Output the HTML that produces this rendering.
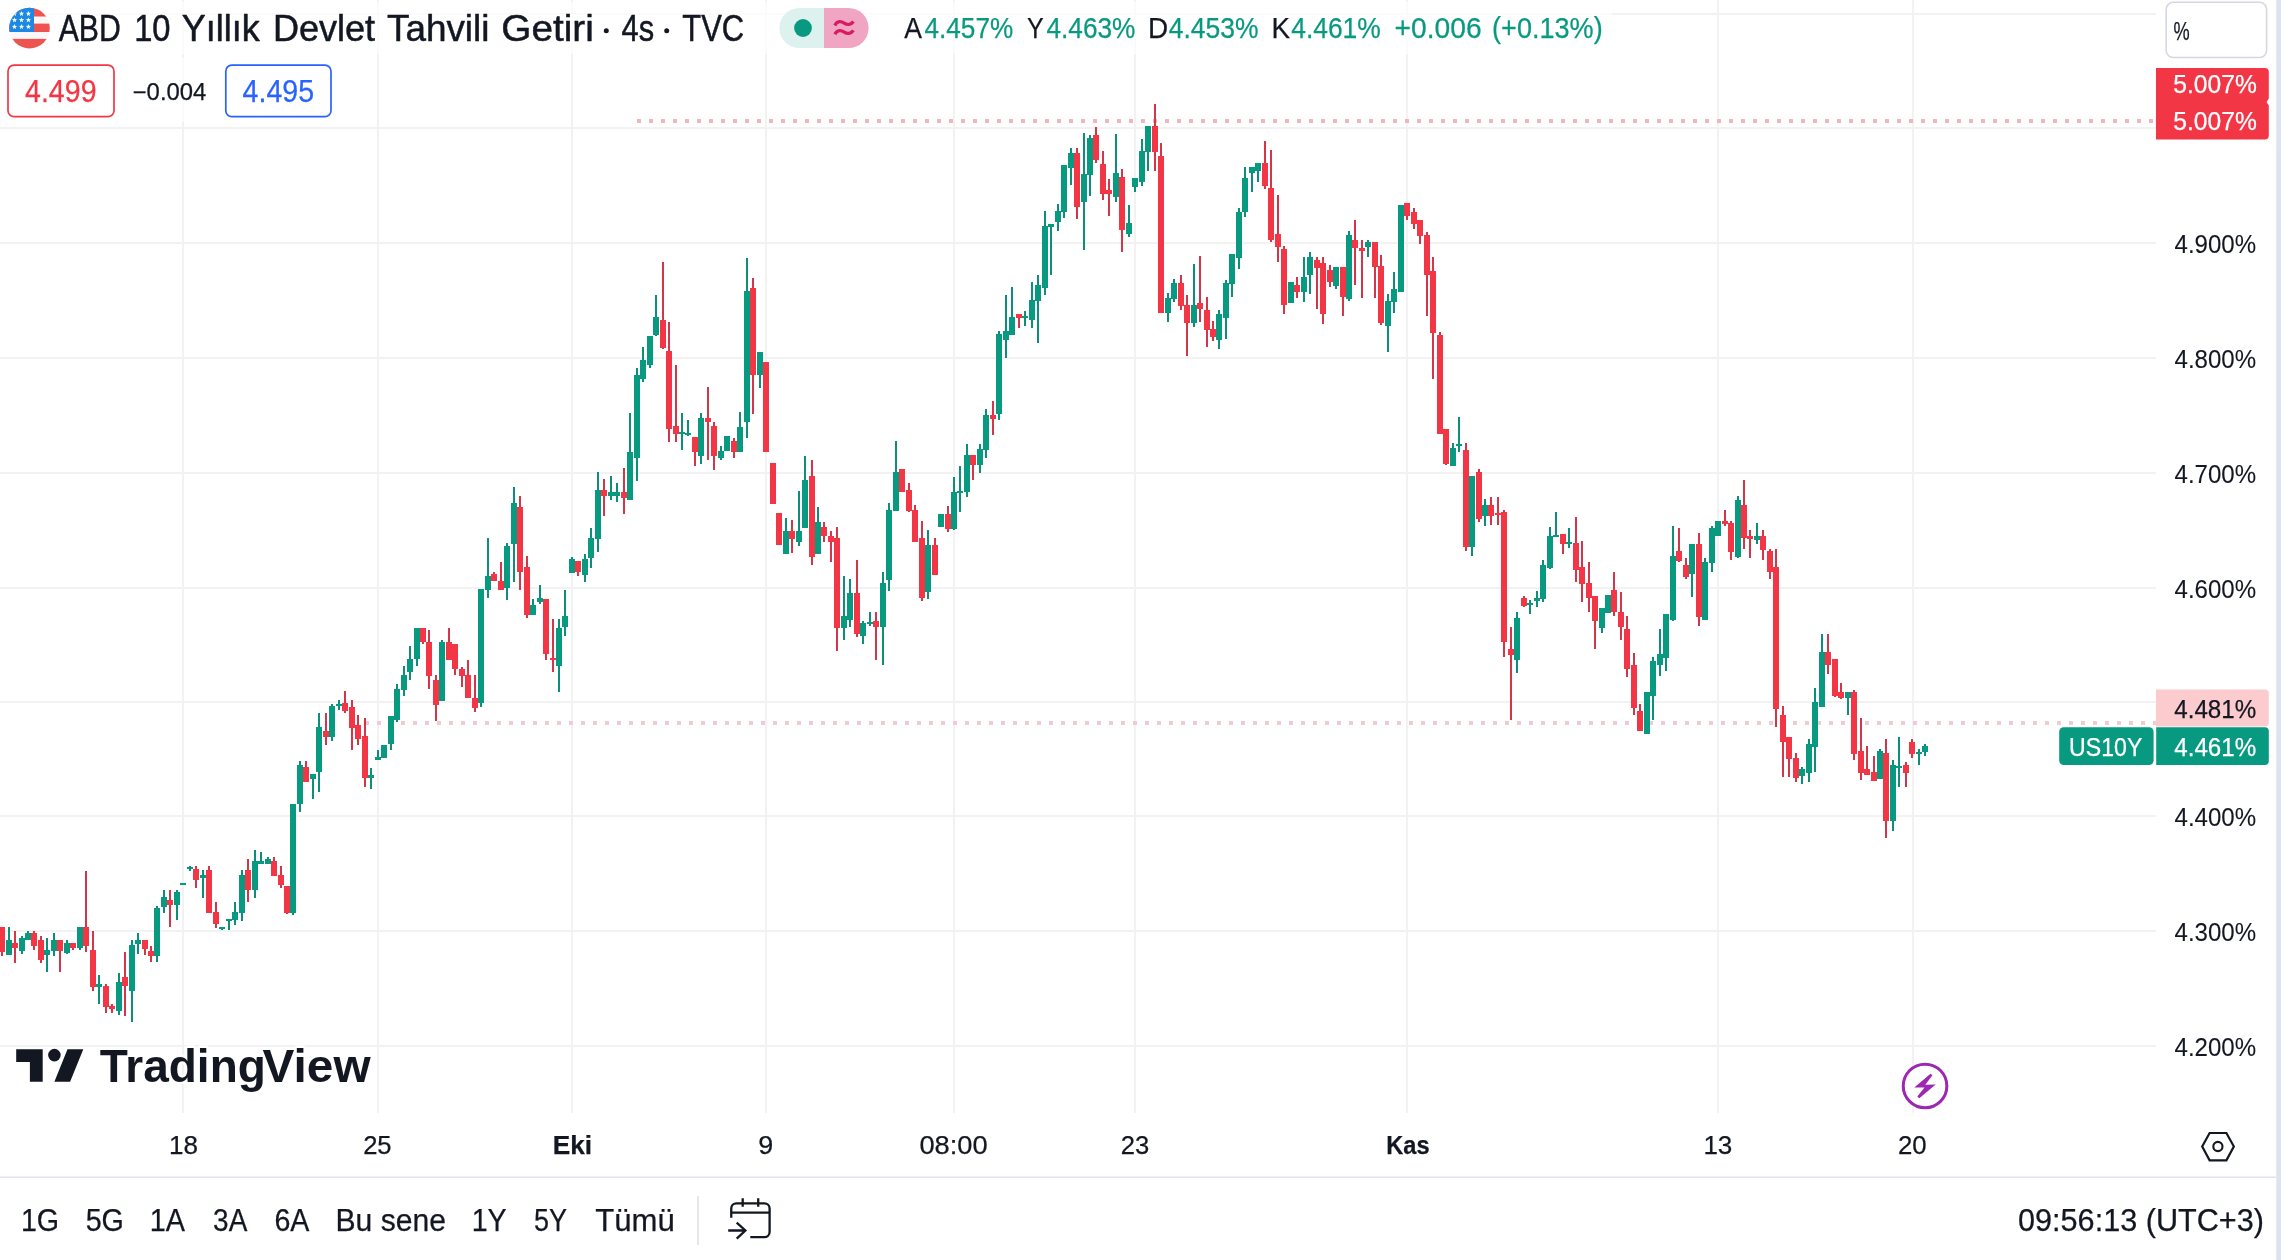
<!DOCTYPE html><html><head><meta charset="utf-8"><title>US10Y</title><style>html,body{margin:0;padding:0;background:#fff}body{width:2281px;height:1260px;overflow:hidden;position:relative}svg{position:absolute;left:0;top:0;display:block;will-change:transform}text{font-family:"Liberation Sans",sans-serif;white-space:pre}</style></head><body>
<svg width="2281" height="1260" viewBox="0 0 2281 1260">
<rect x="0" y="0" width="2281" height="1260" fill="#ffffff"/>
<g fill="#f2f2f3" shape-rendering="crispEdges">
<rect x="182" y="0" width="2" height="1113"/>
<rect x="377" y="0" width="2" height="1113"/>
<rect x="571" y="0" width="2" height="1113"/>
<rect x="765" y="0" width="2" height="1113"/>
<rect x="953" y="0" width="2" height="1113"/>
<rect x="1134" y="0" width="2" height="1113"/>
<rect x="1406" y="0" width="2" height="1113"/>
<rect x="1717" y="0" width="2" height="1113"/>
<rect x="1912" y="0" width="2" height="1113"/>
<rect x="0" y="13" width="2156" height="2"/>
<rect x="0" y="127" width="2156" height="2"/>
<rect x="0" y="242" width="2156" height="2"/>
<rect x="0" y="357" width="2156" height="2"/>
<rect x="0" y="472" width="2156" height="2"/>
<rect x="0" y="587" width="2156" height="2"/>
<rect x="0" y="701" width="2156" height="2"/>
<rect x="0" y="815" width="2156" height="2"/>
<rect x="0" y="930" width="2156" height="2"/>
<rect x="0" y="1045" width="2156" height="2"/>
</g>
<path d="M637 119h4v4h-4zM649 119h4v4h-4zM661 119h4v4h-4zM673 119h4v4h-4zM685 119h4v4h-4zM697 119h4v4h-4zM709 119h4v4h-4zM721 119h4v4h-4zM733 119h4v4h-4zM745 119h4v4h-4zM757 119h4v4h-4zM769 119h4v4h-4zM781 119h4v4h-4zM793 119h4v4h-4zM805 119h4v4h-4zM817 119h4v4h-4zM829 119h4v4h-4zM841 119h4v4h-4zM853 119h4v4h-4zM865 119h4v4h-4zM877 119h4v4h-4zM889 119h4v4h-4zM901 119h4v4h-4zM913 119h4v4h-4zM925 119h4v4h-4zM937 119h4v4h-4zM949 119h4v4h-4zM961 119h4v4h-4zM973 119h4v4h-4zM985 119h4v4h-4zM997 119h4v4h-4zM1009 119h4v4h-4zM1021 119h4v4h-4zM1033 119h4v4h-4zM1045 119h4v4h-4zM1057 119h4v4h-4zM1069 119h4v4h-4zM1081 119h4v4h-4zM1093 119h4v4h-4zM1105 119h4v4h-4zM1117 119h4v4h-4zM1129 119h4v4h-4zM1141 119h4v4h-4zM1153 119h4v4h-4zM1165 119h4v4h-4zM1177 119h4v4h-4zM1189 119h4v4h-4zM1201 119h4v4h-4zM1213 119h4v4h-4zM1225 119h4v4h-4zM1237 119h4v4h-4zM1249 119h4v4h-4zM1261 119h4v4h-4zM1273 119h4v4h-4zM1285 119h4v4h-4zM1297 119h4v4h-4zM1309 119h4v4h-4zM1321 119h4v4h-4zM1333 119h4v4h-4zM1345 119h4v4h-4zM1357 119h4v4h-4zM1369 119h4v4h-4zM1381 119h4v4h-4zM1393 119h4v4h-4zM1405 119h4v4h-4zM1417 119h4v4h-4zM1429 119h4v4h-4zM1441 119h4v4h-4zM1453 119h4v4h-4zM1465 119h4v4h-4zM1477 119h4v4h-4zM1489 119h4v4h-4zM1501 119h4v4h-4zM1513 119h4v4h-4zM1525 119h4v4h-4zM1537 119h4v4h-4zM1549 119h4v4h-4zM1561 119h4v4h-4zM1573 119h4v4h-4zM1585 119h4v4h-4zM1597 119h4v4h-4zM1609 119h4v4h-4zM1621 119h4v4h-4zM1633 119h4v4h-4zM1645 119h4v4h-4zM1657 119h4v4h-4zM1669 119h4v4h-4zM1681 119h4v4h-4zM1693 119h4v4h-4zM1705 119h4v4h-4zM1717 119h4v4h-4zM1729 119h4v4h-4zM1741 119h4v4h-4zM1753 119h4v4h-4zM1765 119h4v4h-4zM1777 119h4v4h-4zM1789 119h4v4h-4zM1801 119h4v4h-4zM1813 119h4v4h-4zM1825 119h4v4h-4zM1837 119h4v4h-4zM1849 119h4v4h-4zM1861 119h4v4h-4zM1873 119h4v4h-4zM1885 119h4v4h-4zM1897 119h4v4h-4zM1909 119h4v4h-4zM1921 119h4v4h-4zM1933 119h4v4h-4zM1945 119h4v4h-4zM1957 119h4v4h-4zM1969 119h4v4h-4zM1981 119h4v4h-4zM1993 119h4v4h-4zM2005 119h4v4h-4zM2017 119h4v4h-4zM2029 119h4v4h-4zM2041 119h4v4h-4zM2053 119h4v4h-4zM2065 119h4v4h-4zM2077 119h4v4h-4zM2089 119h4v4h-4zM2101 119h4v4h-4zM2113 119h4v4h-4zM2125 119h4v4h-4zM2137 119h4v4h-4zM2149 119h4v4h-4z" fill="#f0b6bd" shape-rendering="crispEdges"/>
<path d="M365 721h4v4h-4zM377 721h4v4h-4zM389 721h4v4h-4zM401 721h4v4h-4zM413 721h4v4h-4zM425 721h4v4h-4zM437 721h4v4h-4zM449 721h4v4h-4zM461 721h4v4h-4zM473 721h4v4h-4zM485 721h4v4h-4zM497 721h4v4h-4zM509 721h4v4h-4zM521 721h4v4h-4zM533 721h4v4h-4zM545 721h4v4h-4zM557 721h4v4h-4zM569 721h4v4h-4zM581 721h4v4h-4zM593 721h4v4h-4zM605 721h4v4h-4zM617 721h4v4h-4zM629 721h4v4h-4zM641 721h4v4h-4zM653 721h4v4h-4zM665 721h4v4h-4zM677 721h4v4h-4zM689 721h4v4h-4zM701 721h4v4h-4zM713 721h4v4h-4zM725 721h4v4h-4zM737 721h4v4h-4zM749 721h4v4h-4zM761 721h4v4h-4zM773 721h4v4h-4zM785 721h4v4h-4zM797 721h4v4h-4zM809 721h4v4h-4zM821 721h4v4h-4zM833 721h4v4h-4zM845 721h4v4h-4zM857 721h4v4h-4zM869 721h4v4h-4zM881 721h4v4h-4zM893 721h4v4h-4zM905 721h4v4h-4zM917 721h4v4h-4zM929 721h4v4h-4zM941 721h4v4h-4zM953 721h4v4h-4zM965 721h4v4h-4zM977 721h4v4h-4zM989 721h4v4h-4zM1001 721h4v4h-4zM1013 721h4v4h-4zM1025 721h4v4h-4zM1037 721h4v4h-4zM1049 721h4v4h-4zM1061 721h4v4h-4zM1073 721h4v4h-4zM1085 721h4v4h-4zM1097 721h4v4h-4zM1109 721h4v4h-4zM1121 721h4v4h-4zM1133 721h4v4h-4zM1145 721h4v4h-4zM1157 721h4v4h-4zM1169 721h4v4h-4zM1181 721h4v4h-4zM1193 721h4v4h-4zM1205 721h4v4h-4zM1217 721h4v4h-4zM1229 721h4v4h-4zM1241 721h4v4h-4zM1253 721h4v4h-4zM1265 721h4v4h-4zM1277 721h4v4h-4zM1289 721h4v4h-4zM1301 721h4v4h-4zM1313 721h4v4h-4zM1325 721h4v4h-4zM1337 721h4v4h-4zM1349 721h4v4h-4zM1361 721h4v4h-4zM1373 721h4v4h-4zM1385 721h4v4h-4zM1397 721h4v4h-4zM1409 721h4v4h-4zM1421 721h4v4h-4zM1433 721h4v4h-4zM1445 721h4v4h-4zM1457 721h4v4h-4zM1469 721h4v4h-4zM1481 721h4v4h-4zM1493 721h4v4h-4zM1505 721h4v4h-4zM1517 721h4v4h-4zM1529 721h4v4h-4zM1541 721h4v4h-4zM1553 721h4v4h-4zM1565 721h4v4h-4zM1577 721h4v4h-4zM1589 721h4v4h-4zM1601 721h4v4h-4zM1613 721h4v4h-4zM1625 721h4v4h-4zM1637 721h4v4h-4zM1649 721h4v4h-4zM1661 721h4v4h-4zM1673 721h4v4h-4zM1685 721h4v4h-4zM1697 721h4v4h-4zM1709 721h4v4h-4zM1721 721h4v4h-4zM1733 721h4v4h-4zM1745 721h4v4h-4zM1757 721h4v4h-4zM1769 721h4v4h-4zM1781 721h4v4h-4zM1793 721h4v4h-4zM1805 721h4v4h-4zM1817 721h4v4h-4zM1829 721h4v4h-4zM1841 721h4v4h-4zM1853 721h4v4h-4zM1865 721h4v4h-4zM1877 721h4v4h-4zM1889 721h4v4h-4zM1901 721h4v4h-4zM1913 721h4v4h-4zM1925 721h4v4h-4zM1937 721h4v4h-4zM1949 721h4v4h-4zM1961 721h4v4h-4zM1973 721h4v4h-4zM1985 721h4v4h-4zM1997 721h4v4h-4zM2009 721h4v4h-4zM2021 721h4v4h-4zM2033 721h4v4h-4zM2045 721h4v4h-4zM2057 721h4v4h-4zM2069 721h4v4h-4zM2081 721h4v4h-4zM2093 721h4v4h-4zM2105 721h4v4h-4zM2117 721h4v4h-4zM2129 721h4v4h-4zM2141 721h4v4h-4zM2153 721h3v4h-3z" fill="#eeccd1" shape-rendering="crispEdges"/>
<g shape-rendering="crispEdges"><path d="M8 927h2V955h-2zM21 936h2V954h-2zM27 931h2V940h-2zM46 938h2V972h-2zM53 933h2V956h-2zM66 940h2V954h-2zM79 927h2V950h-2zM98 975h2V1004h-2zM118 973h2V1015h-2zM131 940h2V1022h-2zM137 933h2V954h-2zM156 906h2V962h-2zM163 890h2V913h-2zM176 890h2V920h-2zM182 883h2V885h-2zM189 866h2V871h-2zM202 870h2V898h-2zM221 927h2V930h-2zM228 919h2V930h-2zM234 902h2V925h-2zM241 870h2V921h-2zM254 850h2V898h-2zM260 852h2V864h-2zM267 857h2V864h-2zM292 804h2V915h-2zM299 761h2V812h-2zM312 774h2V799h-2zM318 713h2V792h-2zM331 704h2V741h-2zM338 700h2V710h-2zM370 768h2V789h-2zM377 750h2V760h-2zM383 745h2V758h-2zM390 716h2V750h-2zM396 684h2V722h-2zM403 666h2V696h-2zM409 646h2V680h-2zM416 628h2V666h-2zM441 640h2V701h-2zM480 589h2V707h-2zM487 538h2V598h-2zM506 543h2V600h-2zM513 487h2V582h-2zM532 599h2V615h-2zM539 585h2V604h-2zM558 619h2V692h-2zM564 590h2V636h-2zM571 557h2V573h-2zM584 554h2V582h-2zM590 528h2V568h-2zM597 472h2V552h-2zM610 476h2V500h-2zM616 483h2V502h-2zM629 413h2V500h-2zM636 368h2V481h-2zM642 347h2V382h-2zM649 336h2V368h-2zM655 295h2V336h-2zM681 413h2V450h-2zM687 420h2V436h-2zM700 413h2V464h-2zM720 446h2V460h-2zM726 436h2V451h-2zM739 412h2V452h-2zM746 258h2V438h-2zM759 352h2V388h-2zM785 518h2V554h-2zM798 491h2V546h-2zM804 456h2V528h-2zM817 507h2V554h-2zM843 576h2V640h-2zM849 579h2V627h-2zM862 621h2V644h-2zM869 612h2V626h-2zM882 572h2V665h-2zM888 503h2V591h-2zM895 441h2V511h-2zM927 530h2V599h-2zM940 514h2V527h-2zM953 477h2V530h-2zM959 466h2V512h-2zM966 444h2V497h-2zM979 444h2V473h-2zM985 409h2V458h-2zM998 331h2V420h-2zM1005 295h2V358h-2zM1011 287h2V335h-2zM1024 311h2V326h-2zM1031 282h2V328h-2zM1037 275h2V343h-2zM1044 211h2V295h-2zM1050 224h2V275h-2zM1057 204h2V231h-2zM1063 165h2V218h-2zM1070 148h2V185h-2zM1083 133h2V250h-2zM1089 135h2V196h-2zM1115 134h2V202h-2zM1128 205h2V237h-2zM1134 178h2V192h-2zM1141 139h2V186h-2zM1147 126h2V171h-2zM1167 293h2V322h-2zM1173 279h2V302h-2zM1193 264h2V327h-2zM1218 310h2V349h-2zM1225 280h2V339h-2zM1231 254h2V297h-2zM1238 208h2V269h-2zM1244 167h2V217h-2zM1251 167h2V192h-2zM1257 163h2V182h-2zM1290 282h2V303h-2zM1303 257h2V302h-2zM1309 252h2V294h-2zM1335 267h2V289h-2zM1348 231h2V301h-2zM1367 240h2V257h-2zM1387 294h2V352h-2zM1393 272h2V313h-2zM1400 205h2V292h-2zM1452 443h2V466h-2zM1458 417h2V452h-2zM1471 476h2V556h-2zM1484 499h2V526h-2zM1516 612h2V673h-2zM1529 600h2V614h-2zM1536 591h2V607h-2zM1542 560h2V602h-2zM1549 527h2V569h-2zM1555 512h2V537h-2zM1568 528h2V548h-2zM1601 608h2V633h-2zM1607 595h2V613h-2zM1646 692h2V734h-2zM1652 657h2V720h-2zM1659 629h2V676h-2zM1665 614h2V671h-2zM1672 526h2V621h-2zM1691 544h2V597h-2zM1704 558h2V620h-2zM1711 526h2V572h-2zM1717 521h2V536h-2zM1737 496h2V558h-2zM1756 523h2V544h-2zM1801 767h2V784h-2zM1808 739h2V782h-2zM1814 688h2V772h-2zM1821 634h2V707h-2zM1847 692h2V715h-2zM1879 749h2V779h-2zM1892 760h2V831h-2zM1898 737h2V787h-2zM1918 749h2V765h-2zM1924 744h2V756h-2z" fill="#0b8f79"/><path d="M1 927h2V956h-2zM14 931h2V963h-2zM33 931h2V950h-2zM40 936h2V963h-2zM59 940h2V972h-2zM72 943h2V950h-2zM85 871h2V952h-2zM92 931h2V991h-2zM105 984h2V1013h-2zM111 1004h2V1013h-2zM124 952h2V1016h-2zM144 940h2V955h-2zM150 946h2V962h-2zM169 890h2V927h-2zM195 866h2V888h-2zM208 866h2V913h-2zM215 902h2V928h-2zM247 859h2V902h-2zM273 857h2V876h-2zM280 866h2V888h-2zM286 886h2V914h-2zM305 761h2V782h-2zM325 713h2V745h-2zM344 691h2V713h-2zM351 700h2V750h-2zM357 715h2V745h-2zM364 718h2V787h-2zM422 628h2V644h-2zM428 630h2V689h-2zM435 675h2V721h-2zM448 628h2V660h-2zM454 644h2V675h-2zM461 667h2V687h-2zM467 660h2V698h-2zM474 675h2V712h-2zM493 572h2V581h-2zM500 562h2V590h-2zM519 496h2V590h-2zM526 556h2V618h-2zM545 599h2V660h-2zM552 619h2V672h-2zM577 561h2V576h-2zM603 479h2V516h-2zM623 468h2V514h-2zM662 262h2V349h-2zM668 322h2V442h-2zM675 365h2V442h-2zM694 437h2V466h-2zM707 387h2V460h-2zM713 422h2V470h-2zM733 438h2V458h-2zM752 278h2V414h-2zM765 362h2V452h-2zM772 463h2V504h-2zM778 513h2V545h-2zM791 520h2V553h-2zM811 460h2V565h-2zM823 522h2V542h-2zM830 531h2V562h-2zM836 527h2V651h-2zM856 560h2V637h-2zM875 612h2V660h-2zM901 469h2V492h-2zM908 483h2V512h-2zM914 505h2V542h-2zM921 521h2V601h-2zM934 538h2V575h-2zM947 506h2V532h-2zM972 455h2V480h-2zM992 401h2V435h-2zM1018 314h2V328h-2zM1076 148h2V219h-2zM1095 127h2V163h-2zM1102 151h2V200h-2zM1108 179h2V216h-2zM1121 169h2V252h-2zM1154 104h2V171h-2zM1160 143h2V313h-2zM1180 275h2V310h-2zM1186 295h2V356h-2zM1199 256h2V322h-2zM1206 297h2V347h-2zM1212 321h2V341h-2zM1264 141h2V189h-2zM1270 150h2V242h-2zM1277 195h2V262h-2zM1283 246h2V314h-2zM1296 277h2V298h-2zM1316 257h2V309h-2zM1322 257h2V324h-2zM1329 265h2V287h-2zM1342 267h2V316h-2zM1354 220h2V285h-2zM1361 240h2V298h-2zM1374 242h2V298h-2zM1380 255h2V325h-2zM1406 203h2V220h-2zM1413 208h2V229h-2zM1419 220h2V244h-2zM1426 232h2V316h-2zM1432 257h2V379h-2zM1439 332h2V434h-2zM1445 429h2V465h-2zM1465 443h2V551h-2zM1478 469h2V522h-2zM1490 497h2V525h-2zM1497 497h2V525h-2zM1503 510h2V657h-2zM1510 627h2V720h-2zM1523 596h2V607h-2zM1562 534h2V554h-2zM1575 517h2V582h-2zM1581 541h2V602h-2zM1588 562h2V612h-2zM1594 596h2V649h-2zM1613 572h2V616h-2zM1620 592h2V640h-2zM1626 616h2V677h-2zM1633 653h2V715h-2zM1639 704h2V731h-2zM1678 528h2V562h-2zM1685 558h2V579h-2zM1698 533h2V626h-2zM1724 510h2V526h-2zM1730 521h2V560h-2zM1743 480h2V549h-2zM1749 530h2V558h-2zM1762 530h2V560h-2zM1769 549h2V579h-2zM1775 549h2V727h-2zM1782 706h2V777h-2zM1788 737h2V777h-2zM1795 753h2V782h-2zM1827 634h2V674h-2zM1834 659h2V697h-2zM1840 683h2V699h-2zM1853 690h2V760h-2zM1860 718h2V780h-2zM1866 746h2V775h-2zM1873 756h2V781h-2zM1885 739h2V838h-2zM1905 762h2V787h-2zM1911 739h2V758h-2z" fill="#d3354a"/>
<path d="M6 940h6V955h-6zM19 938h6V951h-6zM25 933h6V940h-6zM44 950h6V955h-6zM51 940h6V951h-6zM64 943h6V953h-6zM77 927h6V948h-6zM96 984h6V987h-6zM116 982h6V1011h-6zM129 945h6V991h-6zM135 940h6V944h-6zM154 908h6V956h-6zM161 897h6V907h-6zM174 892h6V905h-6zM180 883h6V885h-6zM187 867h6V869h-6zM200 875h6V878h-6zM219 927h6V929h-6zM226 919h6V921h-6zM232 912h6V920h-6zM239 875h6V913h-6zM252 861h6V890h-6zM258 861h6V864h-6zM265 859h6V864h-6zM290 804h6V913h-6zM297 765h6V804h-6zM310 774h6V779h-6zM316 727h6V772h-6zM329 706h6V737h-6zM336 704h6V706h-6zM368 775h6V778h-6zM375 757h6V760h-6zM381 745h6V758h-6zM388 716h6V744h-6zM394 689h6V720h-6zM401 675h6V690h-6zM407 659h6V672h-6zM414 628h6V659h-6zM439 642h6V701h-6zM478 589h6V703h-6zM485 576h6V590h-6zM504 546h6V588h-6zM511 503h6V544h-6zM530 605h6V615h-6zM537 598h6V602h-6zM556 628h6V666h-6zM562 616h6V627h-6zM569 559h6V573h-6zM582 559h6V575h-6zM588 538h6V558h-6zM595 490h6V539h-6zM608 492h6V496h-6zM614 492h6V496h-6zM627 452h6V500h-6zM634 375h6V458h-6zM640 360h6V379h-6zM647 336h6V365h-6zM653 317h6V335h-6zM679 432h6V434h-6zM685 433h6V435h-6zM698 418h6V456h-6zM718 451h6V458h-6zM724 436h6V451h-6zM737 427h6V452h-6zM744 291h6V422h-6zM757 352h6V375h-6zM783 531h6V554h-6zM796 531h6V542h-6zM802 480h6V528h-6zM815 522h6V554h-6zM841 616h6V628h-6zM847 593h6V620h-6zM860 623h6V636h-6zM867 622h6V624h-6zM880 583h6V627h-6zM886 510h6V580h-6zM893 472h6V511h-6zM925 545h6V592h-6zM938 514h6V527h-6zM951 492h6V529h-6zM957 491h6V493h-6zM964 455h6V492h-6zM977 449h6V465h-6zM983 415h6V450h-6zM996 334h6V414h-6zM1003 331h6V340h-6zM1009 317h6V335h-6zM1022 316h6V318h-6zM1029 300h6V320h-6zM1035 285h6V301h-6zM1042 226h6V288h-6zM1048 224h6V227h-6zM1055 211h6V222h-6zM1061 165h6V212h-6zM1068 153h6V168h-6zM1081 174h6V202h-6zM1087 138h6V175h-6zM1113 173h6V197h-6zM1126 223h6V234h-6zM1132 178h6V187h-6zM1139 151h6V182h-6zM1145 126h6V152h-6zM1165 298h6V313h-6zM1171 283h6V299h-6zM1191 305h6V323h-6zM1216 314h6V340h-6zM1223 283h6V318h-6zM1229 254h6V284h-6zM1236 212h6V258h-6zM1242 178h6V212h-6zM1249 167h6V173h-6zM1255 163h6V171h-6zM1288 282h6V303h-6zM1301 277h6V292h-6zM1307 257h6V275h-6zM1333 267h6V286h-6zM1346 235h6V299h-6zM1365 242h6V247h-6zM1385 301h6V326h-6zM1391 289h6V302h-6zM1398 205h6V292h-6zM1450 448h6V466h-6zM1456 444h6V446h-6zM1469 476h6V547h-6zM1482 505h6V516h-6zM1514 618h6V660h-6zM1527 603h6V605h-6zM1534 598h6V601h-6zM1540 565h6V599h-6zM1547 536h6V568h-6zM1553 535h6V537h-6zM1566 542h6V544h-6zM1599 608h6V628h-6zM1605 595h6V613h-6zM1644 692h6V734h-6zM1650 661h6V696h-6zM1657 654h6V665h-6zM1663 614h6V658h-6zM1670 556h6V620h-6zM1689 544h6V574h-6zM1702 562h6V620h-6zM1709 528h6V563h-6zM1715 521h6V536h-6zM1735 500h6V557h-6zM1754 536h6V540h-6zM1799 769h6V776h-6zM1806 744h6V773h-6zM1812 702h6V747h-6zM1819 652h6V707h-6zM1845 692h6V698h-6zM1877 751h6V779h-6zM1890 765h6V821h-6zM1896 766h6V768h-6zM1916 752h6V754h-6zM1922 746h6V752h-6z" fill="#089981"/><path d="M-1 927h6V952h-6zM12 943h6V948h-6zM31 933h6V946h-6zM38 940h6V960h-6zM57 940h6V951h-6zM70 943h6V948h-6zM83 927h6V946h-6zM90 950h6V987h-6zM103 986h6V1007h-6zM109 1006h6V1009h-6zM122 977h6V986h-6zM142 940h6V949h-6zM148 951h6V956h-6zM167 900h6V905h-6zM193 869h6V880h-6zM206 870h6V913h-6zM213 912h6V924h-6zM245 870h6V890h-6zM271 861h6V876h-6zM278 875h6V885h-6zM284 886h6V913h-6zM303 767h6V782h-6zM323 731h6V737h-6zM342 703h6V711h-6zM349 707h6V728h-6zM355 725h6V739h-6zM362 736h6V778h-6zM420 628h6V642h-6zM426 642h6V676h-6zM433 680h6V705h-6zM446 642h6V660h-6zM452 644h6V669h-6zM459 669h6V676h-6zM465 675h6V698h-6zM472 698h6V708h-6zM491 574h6V581h-6zM498 581h6V590h-6zM517 507h6V572h-6zM524 567h6V615h-6zM543 599h6V654h-6zM550 658h6V660h-6zM575 561h6V572h-6zM601 490h6V496h-6zM621 492h6V498h-6zM660 320h6V348h-6zM666 351h6V429h-6zM673 426h6V434h-6zM692 437h6V452h-6zM705 418h6V422h-6zM711 426h6V456h-6zM731 441h6V452h-6zM750 288h6V375h-6zM763 362h6V452h-6zM770 463h6V504h-6zM776 513h6V545h-6zM789 531h6V539h-6zM809 476h6V557h-6zM821 527h6V536h-6zM828 536h6V542h-6zM834 538h6V628h-6zM854 593h6V634h-6zM873 621h6V627h-6zM899 469h6V492h-6zM906 490h6V511h-6zM912 510h6V542h-6zM919 538h6V598h-6zM932 545h6V575h-6zM945 514h6V529h-6zM970 455h6V465h-6zM990 415h6V419h-6zM1016 314h6V318h-6zM1074 153h6V207h-6zM1093 135h6V160h-6zM1100 164h6V194h-6zM1106 190h6V194h-6zM1119 177h6V230h-6zM1152 126h6V152h-6zM1158 156h6V313h-6zM1178 283h6V306h-6zM1184 305h6V323h-6zM1197 303h6V309h-6zM1204 310h6V330h-6zM1210 329h6V337h-6zM1262 163h6V186h-6zM1268 188h6V240h-6zM1275 234h6V247h-6zM1281 249h6V305h-6zM1294 285h6V292h-6zM1314 260h6V268h-6zM1320 263h6V314h-6zM1327 270h6V282h-6zM1340 267h6V297h-6zM1352 240h6V248h-6zM1359 248h6V251h-6zM1372 242h6V267h-6zM1378 266h6V323h-6zM1404 203h6V216h-6zM1411 212h6V224h-6zM1417 220h6V236h-6zM1424 235h6V275h-6zM1430 271h6V333h-6zM1437 335h6V434h-6zM1443 429h6V464h-6zM1463 450h6V547h-6zM1476 472h6V519h-6zM1488 505h6V516h-6zM1495 513h6V515h-6zM1501 512h6V642h-6zM1508 649h6V655h-6zM1521 598h6V606h-6zM1560 534h6V544h-6zM1573 543h6V570h-6zM1579 567h6V584h-6zM1586 583h6V598h-6zM1592 596h6V621h-6zM1611 590h6V612h-6zM1618 612h6V627h-6zM1624 629h6V669h-6zM1631 665h6V708h-6zM1637 711h6V731h-6zM1676 551h6V561h-6zM1683 565h6V577h-6zM1696 544h6V617h-6zM1722 521h6V524h-6zM1728 523h6V552h-6zM1741 505h6V538h-6zM1747 536h6V539h-6zM1760 536h6V550h-6zM1767 551h6V572h-6zM1773 567h6V709h-6zM1780 715h6V742h-6zM1786 737h6V759h-6zM1793 758h6V778h-6zM1825 652h6V665h-6zM1832 659h6V696h-6zM1838 692h6V698h-6zM1851 692h6V754h-6zM1858 751h6V773h-6zM1864 769h6V775h-6zM1871 772h6V781h-6zM1883 753h6V821h-6zM1903 765h6V773h-6zM1909 742h6V754h-6z" fill="#f23645"/></g>
<rect x="0" y="2" width="1612" height="52" fill="#ffffff" fill-opacity="0.65"/><rect x="0" y="58" width="340" height="64" fill="#ffffff" fill-opacity="0.65"/>
<defs><clipPath id="fc"><circle cx="29.5" cy="28.1" r="20.3"/></clipPath></defs>
<g clip-path="url(#fc)">
<rect x="8" y="6" width="44" height="44" fill="#fbf7f8"/>
<rect x="8" y="6" width="44" height="10.5" fill="#ef5350"/>
<rect x="8" y="23.6" width="44" height="8.4" fill="#ef5350"/>
<rect x="8" y="38.9" width="44" height="11.1" fill="#ef5350"/>
<rect x="8" y="6" width="26" height="26" fill="#1e88e5"/>
<polygon points="14.50,11.00 15.21,12.72 17.07,12.87 15.66,14.08 16.09,15.88 14.50,14.91 12.91,15.88 13.34,14.08 11.93,12.87 13.79,12.72" fill="#eefcff"/>
<polygon points="21.50,11.00 22.21,12.72 24.07,12.87 22.66,14.08 23.09,15.88 21.50,14.91 19.91,15.88 20.34,14.08 18.93,12.87 20.79,12.72" fill="#eefcff"/>
<polygon points="28.40,11.00 29.11,12.72 30.97,12.87 29.56,14.08 29.99,15.88 28.40,14.91 26.81,15.88 27.24,14.08 25.83,12.87 27.69,12.72" fill="#eefcff"/>
<polygon points="14.50,17.40 15.21,19.12 17.07,19.27 15.66,20.48 16.09,22.28 14.50,21.32 12.91,22.28 13.34,20.48 11.93,19.27 13.79,19.12" fill="#eefcff"/>
<polygon points="21.50,17.40 22.21,19.12 24.07,19.27 22.66,20.48 23.09,22.28 21.50,21.32 19.91,22.28 20.34,20.48 18.93,19.27 20.79,19.12" fill="#eefcff"/>
<polygon points="28.40,17.40 29.11,19.12 30.97,19.27 29.56,20.48 29.99,22.28 28.40,21.32 26.81,22.28 27.24,20.48 25.83,19.27 27.69,19.12" fill="#eefcff"/>
<polygon points="14.50,24.10 15.21,25.82 17.07,25.97 15.66,27.18 16.09,28.98 14.50,28.02 12.91,28.98 13.34,27.18 11.93,25.97 13.79,25.82" fill="#eefcff"/>
<polygon points="21.50,24.10 22.21,25.82 24.07,25.97 22.66,27.18 23.09,28.98 21.50,28.02 19.91,28.98 20.34,27.18 18.93,25.97 20.79,25.82" fill="#eefcff"/>
<polygon points="28.40,24.10 29.11,25.82 30.97,25.97 29.56,27.18 29.99,28.98 28.40,28.02 26.81,28.98 27.24,27.18 25.83,25.97 27.69,25.82" fill="#eefcff"/>
</g>
<text x="58.70" y="40.8" font-size="36" fill="#131722" stroke="#131722" stroke-width="0.5" stroke-linejoin="round" textLength="62.04" lengthAdjust="spacingAndGlyphs">ABD</text>
<text x="134.18" y="40.8" font-size="36" fill="#131722" stroke="#131722" stroke-width="0.5" stroke-linejoin="round" textLength="36.34" lengthAdjust="spacingAndGlyphs">10</text>
<text x="181.80" y="40.8" font-size="36" fill="#131722" stroke="#131722" stroke-width="0.5" stroke-linejoin="round" textLength="77.90" lengthAdjust="spacingAndGlyphs">Yıllık</text>
<text x="272.90" y="40.8" font-size="36" fill="#131722" stroke="#131722" stroke-width="0.5" stroke-linejoin="round" textLength="102.21" lengthAdjust="spacingAndGlyphs">Devlet</text>
<text x="387.00" y="40.8" font-size="36" fill="#131722" stroke="#131722" stroke-width="0.5" stroke-linejoin="round" textLength="102.45" lengthAdjust="spacingAndGlyphs">Tahvili</text>
<text x="501.33" y="40.8" font-size="36" fill="#131722" stroke="#131722" stroke-width="0.5" stroke-linejoin="round" textLength="92.42" lengthAdjust="spacingAndGlyphs">Getiri</text>
<text x="621.50" y="40.8" font-size="36" fill="#131722" stroke="#131722" stroke-width="0.5" stroke-linejoin="round" textLength="32.56" lengthAdjust="spacingAndGlyphs">4s</text>
<text x="682.30" y="40.8" font-size="36" fill="#131722" stroke="#131722" stroke-width="0.5" stroke-linejoin="round" textLength="61.76" lengthAdjust="spacingAndGlyphs">TVC</text>
<circle cx="606.3" cy="30.8" r="2.5" fill="#131722"/><circle cx="666.7" cy="30.8" r="2.5" fill="#131722"/>
<defs><clipPath id="pc"><rect x="779.4" y="8" width="89.2" height="40" rx="20"/></clipPath></defs>
<g clip-path="url(#pc)"><rect x="779" y="8" width="45" height="40" fill="#ddf2ee"/><rect x="824" y="8" width="46" height="40" fill="#f0a6c2"/></g>
<circle cx="803" cy="28" r="8.9" fill="#089981"/>
<g fill="none" stroke="#d81b60" stroke-width="3.3"><path d="M834.85 25.4C837.5 20.3 841.4 21.3 844.25 23.2S851 25.1 853.4 21.5"/><path d="M834.85 34.3C837.5 29.2 841.4 30.2 844.25 32.1S851 34 853.4 30.4"/></g>
<text x="904.20" y="38.2" font-size="29.5" fill="#131722" stroke="#131722" stroke-width="0.25" stroke-linejoin="round" textLength="17.71" lengthAdjust="spacingAndGlyphs">A</text>
<text x="924.50" y="38.2" font-size="29.5" fill="#089981" stroke="#089981" stroke-width="0.25" stroke-linejoin="round" textLength="88.70" lengthAdjust="spacingAndGlyphs">4.457%</text>
<text x="1027.00" y="38.2" font-size="29.5" fill="#131722" stroke="#131722" stroke-width="0.25" stroke-linejoin="round" textLength="16.72" lengthAdjust="spacingAndGlyphs">Y</text>
<text x="1046.50" y="38.2" font-size="29.5" fill="#089981" stroke="#089981" stroke-width="0.25" stroke-linejoin="round" textLength="88.90" lengthAdjust="spacingAndGlyphs">4.463%</text>
<text x="1148.11" y="38.2" font-size="29.5" fill="#131722" stroke="#131722" stroke-width="0.25" stroke-linejoin="round" textLength="20.12" lengthAdjust="spacingAndGlyphs">D</text>
<text x="1168.80" y="38.2" font-size="29.5" fill="#089981" stroke="#089981" stroke-width="0.25" stroke-linejoin="round" textLength="89.71" lengthAdjust="spacingAndGlyphs">4.453%</text>
<text x="1271.61" y="38.2" font-size="29.5" fill="#131722" stroke="#131722" stroke-width="0.25" stroke-linejoin="round" textLength="18.58" lengthAdjust="spacingAndGlyphs">K</text>
<text x="1291.20" y="38.2" font-size="29.5" fill="#089981" stroke="#089981" stroke-width="0.25" stroke-linejoin="round" textLength="89.61" lengthAdjust="spacingAndGlyphs">4.461%</text>
<text x="1394.54" y="38.2" font-size="29.5" fill="#089981" stroke="#089981" stroke-width="0.25" stroke-linejoin="round" textLength="87.15" lengthAdjust="spacingAndGlyphs">+0.006</text>
<text x="1492.08" y="38.2" font-size="29.5" fill="#089981" stroke="#089981" stroke-width="0.25" stroke-linejoin="round" textLength="110.59" lengthAdjust="spacingAndGlyphs">(+0.13%)</text>
<rect x="8" y="65.2" width="106" height="51.5" rx="6" fill="#fff" stroke="#f23645" stroke-width="1.7"/>
<text x="25.00" y="102.0" font-size="31" fill="#f23645" stroke="#f23645" stroke-width="0.25" stroke-linejoin="round" textLength="71.54" lengthAdjust="spacingAndGlyphs">4.499</text>
<text x="132.66" y="99.5" font-size="23" fill="#131722" stroke="#131722" stroke-width="0.25" stroke-linejoin="round" textLength="73.72" lengthAdjust="spacingAndGlyphs">−0.004</text>
<rect x="225.8" y="65.2" width="105.2" height="51.5" rx="6" fill="#fff" stroke="#2962ff" stroke-width="1.7"/>
<text x="242.60" y="102.0" font-size="31" fill="#2962ff" stroke="#2962ff" stroke-width="0.25" stroke-linejoin="round" textLength="71.54" lengthAdjust="spacingAndGlyphs">4.495</text>
<rect x="2166.2" y="2.3" width="100.4" height="55.2" rx="7" fill="#fff" stroke="#d5d8e3" stroke-width="1.6"/>
<text x="2173.50" y="40.0" font-size="25" fill="#131722" stroke="#131722" stroke-width="0.25" stroke-linejoin="round" textLength="16.17" lengthAdjust="spacingAndGlyphs">%</text>
<text x="2174.50" y="253.0" font-size="26" fill="#131722" stroke="#131722" stroke-width="0.1" stroke-linejoin="round" textLength="81.61" lengthAdjust="spacingAndGlyphs">4.900%</text>
<text x="2174.50" y="368.0" font-size="26" fill="#131722" stroke="#131722" stroke-width="0.1" stroke-linejoin="round" textLength="81.61" lengthAdjust="spacingAndGlyphs">4.800%</text>
<text x="2174.50" y="483.0" font-size="26" fill="#131722" stroke="#131722" stroke-width="0.1" stroke-linejoin="round" textLength="81.61" lengthAdjust="spacingAndGlyphs">4.700%</text>
<text x="2174.50" y="598.0" font-size="26" fill="#131722" stroke="#131722" stroke-width="0.1" stroke-linejoin="round" textLength="81.61" lengthAdjust="spacingAndGlyphs">4.600%</text>
<text x="2174.50" y="826.0" font-size="26" fill="#131722" stroke="#131722" stroke-width="0.1" stroke-linejoin="round" textLength="81.61" lengthAdjust="spacingAndGlyphs">4.400%</text>
<text x="2174.50" y="941.0" font-size="26" fill="#131722" stroke="#131722" stroke-width="0.1" stroke-linejoin="round" textLength="81.61" lengthAdjust="spacingAndGlyphs">4.300%</text>
<text x="2174.50" y="1056.0" font-size="26" fill="#131722" stroke="#131722" stroke-width="0.1" stroke-linejoin="round" textLength="81.61" lengthAdjust="spacingAndGlyphs">4.200%</text>
<path d="M2156 68h108.8q4 0 4 4v26.5l-2.2 3.5 2.2 3.5v30q0 4-4 4H2156z" fill="#f23645"/>
<text x="2173.32" y="92.6" font-size="25" fill="#ffffff" stroke="#ffffff" stroke-width="0.25" stroke-linejoin="round" textLength="83.51" lengthAdjust="spacingAndGlyphs">5.007%</text>
<text x="2173.32" y="130.0" font-size="25" fill="#ffffff" stroke="#ffffff" stroke-width="0.25" stroke-linejoin="round" textLength="83.51" lengthAdjust="spacingAndGlyphs">5.007%</text>
<path d="M2156 689.5h108.8q4 0 4 4v29q0 4-4 4H2156z" fill="#fccbcd"/>
<text x="2174.30" y="718.3" font-size="25" fill="#131722" stroke="#131722" stroke-width="0.25" stroke-linejoin="round" textLength="81.92" lengthAdjust="spacingAndGlyphs">4.481%</text>
<rect x="2059.2" y="727.3" width="94.4" height="37.7" rx="4.5" fill="#089981"/>
<path d="M2156.2 727.3h108.6q4 0 4 4v29.7q0 4-4 4H2156.2z" fill="#089981"/>
<text x="2069.08" y="756.0" font-size="25" fill="#ffffff" stroke="#ffffff" stroke-width="0.25" stroke-linejoin="round" textLength="73.22" lengthAdjust="spacingAndGlyphs">US10Y</text>
<text x="2174.30" y="756.0" font-size="25" fill="#ffffff" stroke="#ffffff" stroke-width="0.25" stroke-linejoin="round" textLength="81.92" lengthAdjust="spacingAndGlyphs">4.461%</text>
<text x="169.08" y="1154.4" font-size="26.5" fill="#131722" stroke="#131722" stroke-width="0.25" stroke-linejoin="round" textLength="28.99" lengthAdjust="spacingAndGlyphs">18</text>
<text x="363.13" y="1154.4" font-size="26.5" fill="#131722" stroke="#131722" stroke-width="0.25" stroke-linejoin="round" textLength="28.48" lengthAdjust="spacingAndGlyphs">25</text>
<text x="552.71" y="1154.4" font-size="26.5" fill="#131722" font-weight="700" stroke="#131722" stroke-width="0.25" stroke-linejoin="round" textLength="39.34" lengthAdjust="spacingAndGlyphs">Eki</text>
<text x="758.38" y="1154.4" font-size="26.5" fill="#131722" stroke="#131722" stroke-width="0.25" stroke-linejoin="round" textLength="14.96" lengthAdjust="spacingAndGlyphs">9</text>
<text x="919.47" y="1154.4" font-size="26.5" fill="#131722" stroke="#131722" stroke-width="0.25" stroke-linejoin="round" textLength="68.19" lengthAdjust="spacingAndGlyphs">08:00</text>
<text x="1120.83" y="1154.4" font-size="26.5" fill="#131722" stroke="#131722" stroke-width="0.25" stroke-linejoin="round" textLength="28.48" lengthAdjust="spacingAndGlyphs">23</text>
<text x="1386.21" y="1154.4" font-size="26.5" fill="#131722" font-weight="700" stroke="#131722" stroke-width="0.25" stroke-linejoin="round" textLength="43.35" lengthAdjust="spacingAndGlyphs">Kas</text>
<text x="1703.38" y="1154.4" font-size="26.5" fill="#131722" stroke="#131722" stroke-width="0.25" stroke-linejoin="round" textLength="28.99" lengthAdjust="spacingAndGlyphs">13</text>
<text x="1898.03" y="1154.4" font-size="26.5" fill="#131722" stroke="#131722" stroke-width="0.25" stroke-linejoin="round" textLength="28.69" lengthAdjust="spacingAndGlyphs">20</text>
<circle cx="1925.05" cy="1085.95" r="21.8" fill="#fff" stroke="#9c27b0" stroke-width="3"/>
<path d="M1930.5 1073.7L1932.4 1075.2 1925.3 1084.7 1935.7 1084.5 1919.3 1098.2 1917.3 1096.5 1924.5 1087.5 1914.3 1087.6z" fill="#9c27b0"/>
<path d="M2209.6 1133h16.8l7.45 13.5-7.45 13.85h-16.8l-7.4-13.85z" fill="none" stroke="#131722" stroke-width="2.2" stroke-linejoin="miter"/>
<circle cx="2217.9" cy="1146.5" r="4.6" fill="none" stroke="#131722" stroke-width="2.1"/>
<path d="M16.2 1049.2H42.7V1081.8H29.9V1062H16.2zM67.5 1049.2H83.3L70.1 1081.8H54.4z" fill="none" stroke="#fff" stroke-width="4" stroke-linejoin="round"/><circle cx="54.4" cy="1055.1" r="8.3" fill="#fff"/>
<text x="99.70" y="1081.8" font-size="47" fill="#ffffff" font-weight="700" stroke="#ffffff" stroke-width="5" stroke-linejoin="round" textLength="166.15" lengthAdjust="spacingAndGlyphs">Trading</text>
<text x="262.60" y="1081.8" font-size="47" fill="#ffffff" font-weight="700" stroke="#ffffff" stroke-width="5" stroke-linejoin="round" textLength="107.95" lengthAdjust="spacingAndGlyphs">View</text>
<path d="M16.2 1049.2H42.7V1081.8H29.9V1062H16.2zM67.5 1049.2H83.3L70.1 1081.8H54.4z" fill="#131722"/><circle cx="54.4" cy="1055.1" r="6.3" fill="#131722"/>
<text x="99.70" y="1081.8" font-size="47" fill="#131722" font-weight="700" textLength="166.15" lengthAdjust="spacingAndGlyphs">Trading</text>
<text x="262.60" y="1081.8" font-size="47" fill="#131722" font-weight="700" textLength="107.95" lengthAdjust="spacingAndGlyphs">View</text>
<line x1="0" y1="1177.3" x2="2276" y2="1177.3" stroke="#e0e3eb" stroke-width="1.6"/>
<text x="20.95" y="1231.4" font-size="31" fill="#131722" stroke="#131722" stroke-width="0.25" stroke-linejoin="round" textLength="38.20" lengthAdjust="spacingAndGlyphs">1G</text>
<text x="85.67" y="1231.4" font-size="31" fill="#131722" stroke="#131722" stroke-width="0.25" stroke-linejoin="round" textLength="38.28" lengthAdjust="spacingAndGlyphs">5G</text>
<text x="149.64" y="1231.4" font-size="31" fill="#131722" stroke="#131722" stroke-width="0.25" stroke-linejoin="round" textLength="35.26" lengthAdjust="spacingAndGlyphs">1A</text>
<text x="213.10" y="1231.4" font-size="31" fill="#131722" stroke="#131722" stroke-width="0.25" stroke-linejoin="round" textLength="34.21" lengthAdjust="spacingAndGlyphs">3A</text>
<text x="274.38" y="1231.4" font-size="31" fill="#131722" stroke="#131722" stroke-width="0.25" stroke-linejoin="round" textLength="35.03" lengthAdjust="spacingAndGlyphs">6A</text>
<text x="335.46" y="1231.4" font-size="31" fill="#131722" stroke="#131722" stroke-width="0.25" stroke-linejoin="round" textLength="110.55" lengthAdjust="spacingAndGlyphs">Bu sene</text>
<text x="471.65" y="1231.4" font-size="31" fill="#131722" stroke="#131722" stroke-width="0.25" stroke-linejoin="round" textLength="35.08" lengthAdjust="spacingAndGlyphs">1Y</text>
<text x="534.03" y="1231.4" font-size="31" fill="#131722" stroke="#131722" stroke-width="0.25" stroke-linejoin="round" textLength="33.06" lengthAdjust="spacingAndGlyphs">5Y</text>
<text x="595.20" y="1231.4" font-size="31" fill="#131722" stroke="#131722" stroke-width="0.25" stroke-linejoin="round" textLength="79.55" lengthAdjust="spacingAndGlyphs">Tümü</text>
<line x1="698" y1="1196" x2="698" y2="1245" stroke="#e0e3eb" stroke-width="1.6"/>
<g fill="none" stroke="#131722" stroke-width="2.3"><path d="M731.25 1217.8V1208.5a5.2 5.2 0 0 1 5.2-5.2H764.4a5.2 5.2 0 0 1 5.2 5.2V1231.9a5.2 5.2 0 0 1-5.2 5.2H750.3"/><path d="M731.25 1212.6H769.6"/><path d="M742.7 1198.2V1206.7M758.2 1198.2V1206.7"/><path d="M728.2 1230.5H745M736.7 1222.7L745.4 1230.5 736.7 1238.6"/></g>
<text x="2018.00" y="1230.8" font-size="30.5" fill="#131722" stroke="#131722" stroke-width="0.25" stroke-linejoin="round" textLength="245.97" lengthAdjust="spacingAndGlyphs">09:56:13 (UTC+3)</text>
<rect x="2276.3" y="0" width="5" height="1260" fill="#dfe2ef"/>
</svg></body></html>
